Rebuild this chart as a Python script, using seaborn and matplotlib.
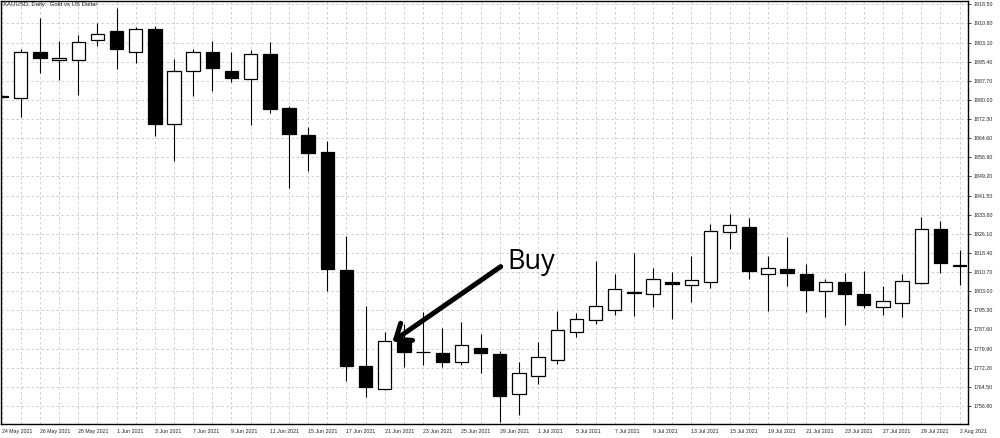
import pandas as pd
import matplotlib
matplotlib.use("Agg")
import matplotlib.pyplot as plt
import numpy as np
import seaborn as sns

# daily XAUUSD candles, 24 May 2021 .. 2 Aug 2021
dates = pd.bdate_range("2021-05-24", "2021-08-02")
opens = [1881.5, 1880.7, 1899.2, 1895.9, 1895.9, 1904.0, 1907.75, 1899.2, 1908.4, 1870.2,
         1891.5, 1899.2, 1891.65, 1888.55, 1898.5, 1876.9, 1865.8, 1858.9, 1811.7, 1772.9,
         1763.5, 1782.4, 1778.7, 1778.1, 1774.6, 1780.0, 1777.7, 1761.5, 1769.0, 1775.2,
         1786.5, 1791.3, 1795.4, 1802.6, 1802.0, 1806.7, 1805.6, 1806.9, 1826.95, 1828.85,
         1809.9, 1812.1, 1809.8, 1803.2, 1806.6, 1802.0, 1796.6, 1798.1, 1806.2, 1827.9,
         1813.4]
highs = [1881.8, 1900.4, 1912.9, 1903.7, 1906.1, 1910.85, 1916.9, 1909.2, 1909.8, 1896.4,
         1900.4, 1903.85, 1899.2, 1900.1, 1903.3, 1877.55, 1869.2, 1863.6, 1825.3, 1797.05,
         1786.45, 1789.8, 1794.6, 1788.2, 1790.6, 1785.8, 1778.9, 1774.6, 1782.7, 1795.0,
         1794.1, 1815.2, 1809.8, 1818.5, 1812.5, 1810.8, 1817.1, 1829.9, 1834.1, 1832.35,
         1817.2, 1825.0, 1813.8, 1808.05, 1810.3, 1811.3, 1805.1, 1809.9, 1832.75, 1831.4,
         1819.6]
lows = [1881.0, 1873.0, 1890.7, 1888.0, 1882.0, 1901.8, 1892.5, 1894.8, 1865.5, 1855.5,
        1881.6, 1883.7, 1887.3, 1869.9, 1874.6, 1844.4, 1851.5, 1803.2, 1767.0, 1760.5,
        1763.3, 1772.4, 1773.2, 1772.6, 1773.3, 1770.2, 1750.2, 1753.0, 1765.6, 1773.8,
        1784.4, 1789.8, 1793.4, 1793.0, 1796.6, 1791.7, 1798.5, 1804.4, 1820.0, 1808.05,
        1795.2, 1805.0, 1794.7, 1792.5, 1789.4, 1796.4, 1793.6, 1792.5, 1806.0, 1810.3,
        1805.4]
closes = [1881.2, 1899.2, 1896.8, 1896.8, 1903.2, 1906.4, 1900.4, 1908.4, 1870.4, 1891.8,
          1899.2, 1892.9, 1888.8, 1898.5, 1876.35, 1866.2, 1858.8, 1811.8, 1773.0, 1764.3,
          1782.95, 1778.6, 1778.5, 1774.6, 1781.2, 1778.0, 1760.9, 1770.2, 1776.6, 1787.5,
          1791.7, 1796.9, 1803.8, 1802.4, 1807.8, 1806.0, 1807.5, 1827.3, 1829.5, 1811.3,
          1812.5, 1810.3, 1803.5, 1806.6, 1802.0, 1797.45, 1798.9, 1806.95, 1827.9, 1814.35,
          1813.2]

price_ticks = [1756.80, 1764.50, 1772.20, 1779.90, 1787.60, 1795.30, 1803.00, 1810.70,
               1818.40, 1826.10, 1833.80, 1841.50, 1849.20, 1856.90, 1864.60, 1872.30,
               1880.00, 1887.70, 1895.40, 1903.10, 1910.80, 1918.50]

df = pd.DataFrame({"date": dates, "open": opens, "high": highs, "low": lows, "close": closes})
df["x"] = np.arange(len(df))
df["up"] = df["close"] >= df["open"]

sns.set_theme(style="white")
plt.rcParams["font.family"] = ["Liberation Sans", "DejaVu Sans"]

fig = plt.figure(figsize=(10, 4.38), dpi=100)
ax = fig.add_axes([0.001, 0.032, 0.967, 0.9657])

# wicks
ax.vlines(df["x"], df["low"], df["high"], color="black", lw=0.8, zorder=2)
# bodies
body_bottom = np.minimum(df["open"], df["close"])
body_height = (df["close"] - df["open"]).abs()
ax.bar(df["x"], body_height, bottom=body_bottom, width=0.7,
       color=np.where(df["up"], "white", "black"), edgecolor="black", lw=0.9, zorder=3)

ax.set_xlim(-0.03, 50.44)
ax.set_ylim(1749.54, 1919.83)

# axes and grid, MetaTrader style
ax.yaxis.tick_right()
ax.set_yticks(price_ticks)
ax.set_yticklabels([f"{p:.2f}" for p in price_ticks], fontsize=3.8, color="#222222")
ax.set_xticks(df["x"][::2])
ax.set_xticks(df["x"][1::2], minor=True)
ax.set_xticklabels([f"{d.day} {d.strftime('%b %Y')}" for d in df["date"][::2]],
                   fontsize=3.8, ha="left", color="#222222")
ax.tick_params(axis="both", which="both", direction="out", length=2.2, width=0.6,
               colors="#222222", pad=1.5)
ax.tick_params(axis="x", which="minor", length=0)
ax.tick_params(axis="y", left=False, right=True)
ax.grid(True, which="both", axis="both", color="#c8c8c8", lw=0.6, ls=(0, (3, 3)))
ax.set_axisbelow(True)
for side, sp in ax.spines.items():
    sp.set_visible(True)
    sp.set_color("black")
    sp.set_linewidth(1.0)

ax.text(0.002, 0.997, "XAUUSD, Daily:  Gold vs US Dollar", transform=ax.transAxes,
        fontsize=4.3, va="top", ha="left", color="#222222")

# buy signal
ax.annotate("", xy=(20.4, 1782.7), xytext=(26.05, 1812.9),
            arrowprops=dict(arrowstyle="->,head_length=0.95,head_width=0.75",
                            lw=3.6, color="black", mutation_scale=10,
                            shrinkA=0, shrinkB=0), zorder=5)
ax.text(26.4, 1811.8, "Buy", fontsize=19.5, family=["Open Sans", "DejaVu Sans"],
        va="baseline", ha="left", color="black", zorder=5)

fig.savefig("out.png", dpi=100)
